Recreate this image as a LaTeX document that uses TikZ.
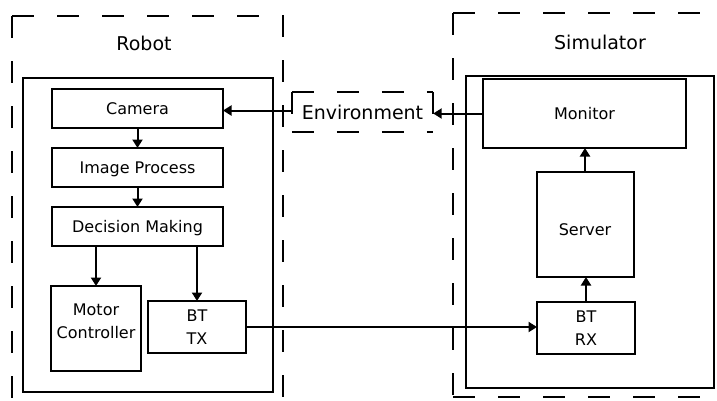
\documentclass[tikz,border=0pt]{standalone}
\usepackage{fontspec}
\setmainfont{DejaVu Sans}
\usetikzlibrary{arrows.meta}

\tikzset{
  px/.style={x=1pt,y=-1pt},
  block/.style={draw, line width=2pt, inner sep=0pt, outer sep=0pt, align=center,
                font=\fontsize{16}{22.5}\selectfont},
  oneline/.style={text height=11.7pt, text depth=0pt},
  plain/.style={inner sep=0pt, align=center, font=\fontsize{16}{22.5}\selectfont},
  title/.style={inner sep=0pt, font=\fontsize{19}{22}\selectfont},
  frame/.style={line width=2pt, dash pattern=on 22pt off 23pt},
  flow/.style={line width=2pt, -{Triangle[length=8.5pt,width=10pt]}},
}

\begin{document}
\begin{tikzpicture}[px]
\useasboundingbox (0,0) rectangle (717,400);

% ---- Robot side ----
\draw[frame] (12,16) -- (12,401);
\draw[frame] (12,16) -- (283,16) -- (283,401);
\node[title] (robotlbl) at (144,43) {Robot};
\node[draw, line width=2pt, minimum width=250pt, minimum height=314pt] (robot) at (148,235) {};

\node[block, oneline, minimum width=171pt, minimum height=39pt] (cam) at (137.5,108.5) {Camera};
\node[block, oneline, minimum width=171pt, minimum height=39pt] (ip)  at (137.5,167.5) {Image Process};
\node[block, oneline, minimum width=171pt, minimum height=39pt] (dm)  at (137.5,226.5) {Decision Making};
\node[block, minimum width=90pt,  minimum height=85pt] (mc)  at (96,328.5) {};
\node[plain] (mctext) at (96,321.5) {Motor\\Controller};
\node[block, minimum width=98pt,  minimum height=52pt] (btx) at (197,327) {BT\\TX};

% ---- Simulator side ----
\draw[frame] (453,13) -- (718,13);
\draw[frame] (453,13) -- (453,397);
\draw[frame] (453,397) -- (718,397);
\node[title] (simlbl) at (600,42) {Simulator};
\node[draw, line width=2pt, minimum width=248pt, minimum height=312pt] (sim) at (590,232) {};

\node[block, oneline, minimum width=203pt, minimum height=69pt] (mon) at (584.5,113.5) {Monitor};
\node[block, minimum width=97pt,  minimum height=105pt] (srv) at (585,224.5) {};
\node[plain, oneline] (srvtext) at (585,229.5) {Server};
\node[block, minimum width=98pt,  minimum height=52pt] (brx) at (586,328) {BT\\RX};

% ---- Environment (dashed outline, one stroke per edge) ----
\node[title, minimum width=141pt, minimum height=40pt] (env) at (362.5,112) {Environment};
\draw[frame] (env.north west) -- (env.north east);
\draw[frame] (env.south west) -- (env.south east);
\draw[frame] (env.north west) -- (env.south west);
\draw[frame] (env.north east) -- (env.south east);

% ---- connectors ----
\draw[flow] (cam) -- (ip);
\draw[flow] (ip) -- (dm);
\draw[flow] (mc.north |- dm.south) -- (mc.north);
\draw[flow] (btx.north |- dm.south) -- (btx.north);
\draw[flow] (btx.east) -- (btx.east -| brx.west);
\draw[flow] (brx.north) -- (brx.north |- srv.south);
\draw[flow] (srv.north) -- (srv.north |- mon.south);
\draw[flow] (mon.west) -- (mon.west -| env.east);
\draw[flow] ([yshift=1.5pt]env.west) -- ([yshift=1.5pt]env.west -| cam.east);
\end{tikzpicture}
\end{document}
